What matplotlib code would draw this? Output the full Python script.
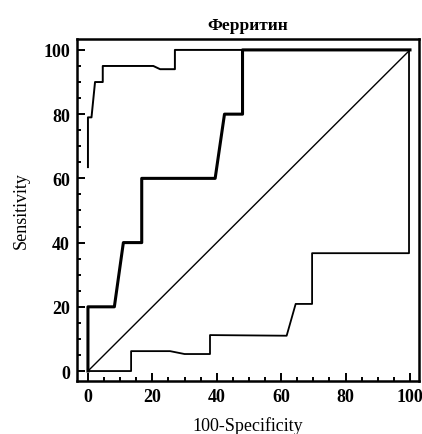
import numpy as np
import matplotlib.pyplot as plt
from matplotlib.ticker import MultipleLocator

# ROC curves (x = 100-Specificity, y = Sensitivity)
upper_x = [0, 0, 1.1, 2.2, 4.6, 4.6, 20.3, 22.4, 27, 27, 100]
upper_y = [63.5, 79, 79, 90, 90, 95, 95, 94, 94, 100, 100]

middle_x = [0, 0, 8.2, 11, 16.7, 16.7, 39.5, 42.4, 48, 48, 100]
middle_y = [0, 20, 20, 40, 40, 60, 60, 80, 80, 100, 100]

lower_x = [0, 13.4, 13.4, 25.5, 30, 37.9, 37.9, 61.7, 64.5, 69.6, 69.6, 99.7, 99.7]
lower_y = [0, 0, 6.2, 6.2, 5.3, 5.3, 11.2, 11, 20.9, 20.9, 36.7, 36.7, 100]

diag_x = [0, 100]
diag_y = [0, 100]

plt.rcParams['font.family'] = ['Liberation Serif', 'DejaVu Serif']

fig = plt.figure(figsize=(4.22, 4.35), dpi=100)
ax = fig.add_axes([77 / 422, 1 - 382 / 435, 342 / 422, 342 / 435])

ax.plot(upper_x, upper_y, color='black', lw=1.4)
ax.plot(middle_x, middle_y, color='black', lw=2.2)
ax.plot(lower_x, lower_y, color='black', lw=1.3)
ax.plot(diag_x, diag_y, color='black', lw=1.0)

ax.set_xlim(-3.4, 102.8)
ax.set_ylim(-3.1, 103.4)
ax.xaxis.set_major_locator(MultipleLocator(20))
ax.yaxis.set_major_locator(MultipleLocator(20))
ax.xaxis.set_minor_locator(MultipleLocator(5))
ax.yaxis.set_minor_locator(MultipleLocator(5))
ax.tick_params(which='both', direction='in', width=1.4, labelsize=13)
ax.tick_params(which='major', length=6, pad=5)
ax.tick_params(which='minor', length=3)
for s in ax.spines.values():
    s.set_linewidth(1.8)

for lab in ax.get_xticklabels() + ax.get_yticklabels():
    lab.set_fontweight('bold')

ax.set_title('Ферритин', fontsize=12.5, fontweight='bold', pad=7)
ax.set_xlabel('100-Specificity', fontsize=13, labelpad=8)
ax.set_ylabel('Sensitivity', fontsize=13, labelpad=10)

fig.savefig('out.png', dpi=100)
